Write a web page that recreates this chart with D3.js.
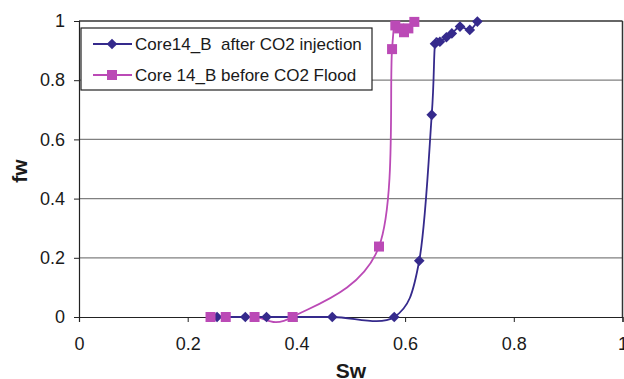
<!DOCTYPE html>
<html>
<head>
<meta charset="utf-8">
<script src="https://cdn.jsdelivr.net/npm/d3@7"></script>
<style>
  html, body { margin: 0; padding: 0; background: #fff; }
  #chart { width: 624px; height: 379px; }
  text { font-family: "Liberation Sans", Arial, sans-serif; fill: #1a1a1a; }
</style>
</head>
<body>
<div id="chart"></div>
<script>
// data
var afterSw = [0.254, 0.306, 0.345, 0.466, 0.580, 0.626, 0.649, 0.655, 0.664, 0.676, 0.686, 0.701, 0.719, 0.733];
var afterFw = [0, 0, 0, 0, 0, 0.19, 0.683, 0.923, 0.93, 0.945, 0.958, 0.981, 0.97, 0.998];
var beforeSw = [0.242, 0.270, 0.323, 0.393, 0.552, 0.576, 0.582, 0.589, 0.598, 0.606, 0.617];
var beforeFw = [0, 0, 0, 0, 0.238, 0.905, 0.985, 0.975, 0.962, 0.975, 0.997];
var seriesNames = ['Core14_B  after CO2 injection', 'Core 14_B before CO2 Flood'];
var xTicks = [0, 0.2, 0.4, 0.6, 0.8, 1];
var yTicks = [0, 0.2, 0.4, 0.6, 0.8, 1];

var width = 624, height = 379;
var margin = { top: 21, right: 1.5, bottom: 62, left: 79 };
var innerWidth = width - margin.left - margin.right;
var innerHeight = height - margin.top - margin.bottom;

var navy = '#352a8c';
var pink = '#bb4ab6';

var svg = d3.select('#chart').append('svg')
  .attr('width', width)
  .attr('height', height);

var plot = svg.append('g')
  .attr('transform', 'translate(' + margin.left + ',' + margin.top + ')');

var x = d3.scaleLinear().domain([0, 1]).range([0, innerWidth]);
var y = d3.scaleLinear().domain([0, 1]).range([innerHeight, 0]);

// gridlines
plot.append('g').selectAll('line')
  .data(yTicks.filter(function (d) { return d > 0; }))
  .enter().append('line')
  .attr('x1', 0).attr('x2', innerWidth)
  .attr('y1', function (d) { return y(d); })
  .attr('y2', function (d) { return y(d); })
  .attr('stroke', function (d) { return d === 1 ? '#333' : '#808080'; })
  .attr('stroke-width', function (d) { return d === 1 ? 1.5 : 1.2; });

// right border
plot.append('line')
  .attr('x1', innerWidth).attr('x2', innerWidth)
  .attr('y1', 0).attr('y2', innerHeight)
  .attr('stroke', '#333').attr('stroke-width', 1.5);

var xAxis = plot.append('g')
  .attr('transform', 'translate(0,' + innerHeight + ')')
  .call(d3.axisBottom(x).tickValues(xTicks).tickSize(5).tickPadding(15).tickFormat(d3.format('~g')));
var yAxis = plot.append('g')
  .call(d3.axisLeft(y).tickValues(yTicks).tickSize(5).tickPadding(9).tickFormat(d3.format('~g')));

[xAxis, yAxis].forEach(function (g) {
  g.select('.domain').attr('stroke', '#222').attr('stroke-width', 1.2);
  g.selectAll('.tick line').attr('stroke', '#222');
  g.selectAll('.tick text').attr('font-size', 18).attr('fill', '#1a1a1a')
    .attr('font-family', '"Liberation Sans", Arial, sans-serif');
});

// axis titles
svg.append('text')
  .attr('x', 351)
  .attr('y', 378)
  .attr('text-anchor', 'middle')
  .attr('font-size', 21).attr('font-weight', 'bold')
  .text('Sw');
svg.append('text')
  .attr('transform', 'translate(27,' + (margin.top + innerHeight / 2 + 2) + ') rotate(-90)')
  .attr('text-anchor', 'middle')
  .attr('font-size', 21).attr('font-weight', 'bold')
  .text('fw');

var line = d3.line()
  .x(function (d) { return x(d[0]); })
  .y(function (d) { return y(d[1]); })
  .curve(d3.curveCardinal.tension(0));

var before = d3.zip(beforeSw, beforeFw);
var after = d3.zip(afterSw, afterFw);

var diamond = d3.symbol().type(d3.symbolDiamond2).size(72);
var square = d3.symbol().type(d3.symbolSquare).size(100);

plot.append('path').datum(before)
  .attr('d', line).attr('fill', 'none')
  .attr('stroke', pink).attr('stroke-width', 1.8);
plot.append('path').datum(after)
  .attr('d', line).attr('fill', 'none')
  .attr('stroke', navy).attr('stroke-width', 1.8);

plot.append('g').selectAll('path')
  .data(after).enter().append('path')
  .attr('d', diamond)
  .attr('transform', function (d) { return 'translate(' + x(d[0]) + ',' + y(d[1]) + ')'; })
  .attr('fill', navy);

plot.append('g').selectAll('path')
  .data(before).enter().append('path')
  .attr('d', square)
  .attr('transform', function (d) { return 'translate(' + x(d[0]) + ',' + y(d[1]) + ')'; })
  .attr('fill', pink);

// legend
var legend = svg.append('g').attr('transform', 'translate(81,28)');
legend.append('rect')
  .attr('width', 291).attr('height', 62)
  .attr('fill', '#fff').attr('stroke', '#222').attr('stroke-width', 1.2);

var legendItems = [
  { name: seriesNames[0], color: navy, sym: diamond, cy: 16 },
  { name: seriesNames[1], color: pink, sym: square, cy: 47 }
];
legendItems.forEach(function (it) {
  legend.append('line')
    .attr('x1', 12).attr('x2', 51)
    .attr('y1', it.cy).attr('y2', it.cy)
    .attr('stroke', it.color).attr('stroke-width', 1.8);
  legend.append('path')
    .attr('d', it.sym)
    .attr('transform', 'translate(31,' + it.cy + ')')
    .attr('fill', it.color);
  legend.append('text')
    .attr('x', 54).attr('y', it.cy + 6)
    .attr('font-size', 17)
    .attr('xml:space', 'preserve')
    .style('white-space', 'pre')
    .text(it.name);
});
</script>
</body>
</html>
